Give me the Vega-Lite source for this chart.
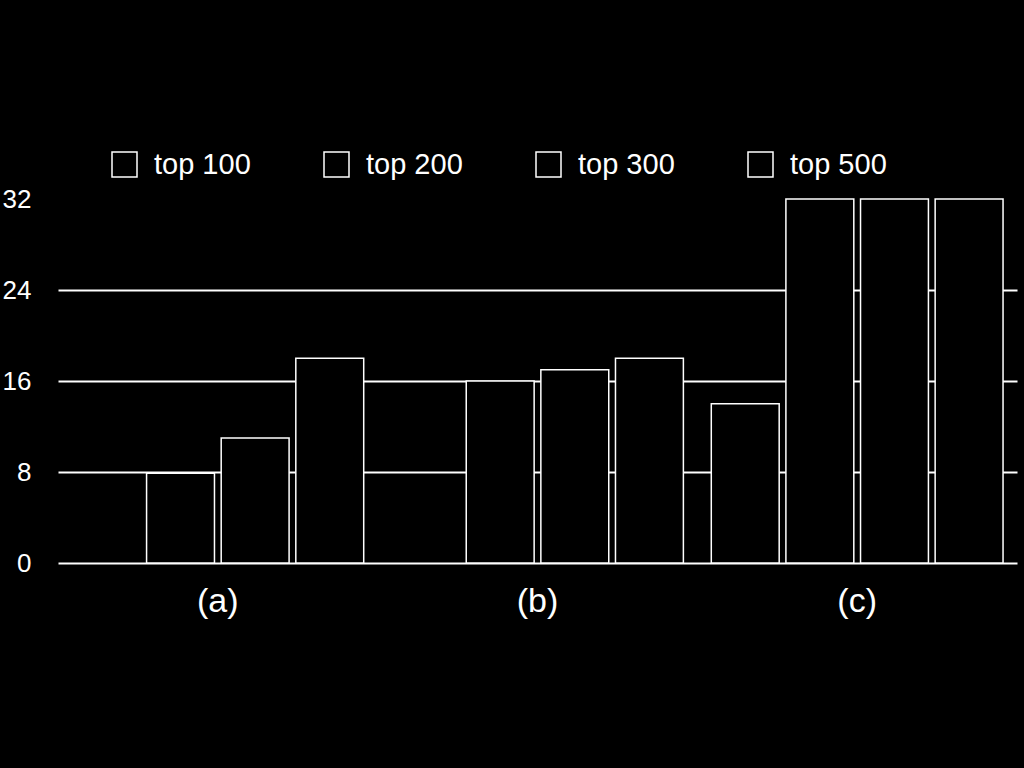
{
  "$schema": "https://vega.github.io/schema/vega-lite/v6.json",
  "width": 959,
  "height": 364,
  "autosize": {"type": "none"},
  "padding": {"left": 58, "top": 199, "right": 7, "bottom": 205},
  "background": "black",
  "config": {"view": {"stroke": null}, "font": "Liberation Sans"},
  "data": {
    "values": [
      {"group": "(a)", "series": "top 200", "value": 7.9},
      {"group": "(a)", "series": "top 300", "value": 11},
      {"group": "(a)", "series": "top 500", "value": 18},
      {"group": "(b)", "series": "top 200", "value": 16},
      {"group": "(b)", "series": "top 300", "value": 17},
      {"group": "(b)", "series": "top 500", "value": 18},
      {"group": "(c)", "series": "top 100", "value": 14},
      {"group": "(c)", "series": "top 200", "value": 32},
      {"group": "(c)", "series": "top 300", "value": 32},
      {"group": "(c)", "series": "top 500", "value": 32}
    ]
  },
  "mark": {"type": "bar", "stroke": "white", "strokeWidth": 1.5},
  "encoding": {
    "x": {
      "field": "group",
      "type": "nominal",
      "scale": {"paddingInner": 0, "paddingOuter": 0},
      "axis": {
        "title": null,
        "labelAngle": 0,
        "labelFontSize": 34,
        "labelColor": "white",
        "ticks": false,
        "tickSize": 0,
        "domain": false,
        "labelPadding": 21
      }
    },
    "xOffset": {
      "field": "series",
      "type": "nominal",
      "scale": {"domain": ["top 100", "top 200", "top 300", "top 500"], "paddingInner": 0.09, "paddingOuter": 0.187}
    },
    "y": {
      "field": "value",
      "type": "quantitative",
      "scale": {"domain": [0, 32], "nice": false},
      "axis": {
        "title": null,
        "values": [0, 8, 16, 24, 32],
        "labelFontSize": 26,
        "labelColor": "white",
        "ticks": false,
        "tickSize": 0,
        "domain": false,
        "labelPadding": 27,
        "grid": true,
        "gridColor": "white",
        "gridWidth": 2,
        "gridOpacity": {"condition": {"test": "datum.value === 32", "value": 0}, "value": 1}
      }
    },
    "color": {
      "field": "series",
      "type": "nominal",
      "scale": {"domain": ["top 100", "top 200", "top 300", "top 500"], "range": ["black", "black", "black", "black"]},
      "legend": {
        "title": null,
        "orient": "none",
        "legendX": 52,
        "legendY": -49,
        "direction": "horizontal",
        "columns": 4,
        "padding": 0,
        "symbolType": "square",
        "symbolSize": 625,
        "symbolStrokeColor": "white",
        "symbolStrokeWidth": 1.5,
        "symbolFillColor": "black",
        "labelColor": "white",
        "labelFontSize": 29,
        "labelOffset": 15,
        "columnPadding": 70
      }
    }
  }
}
